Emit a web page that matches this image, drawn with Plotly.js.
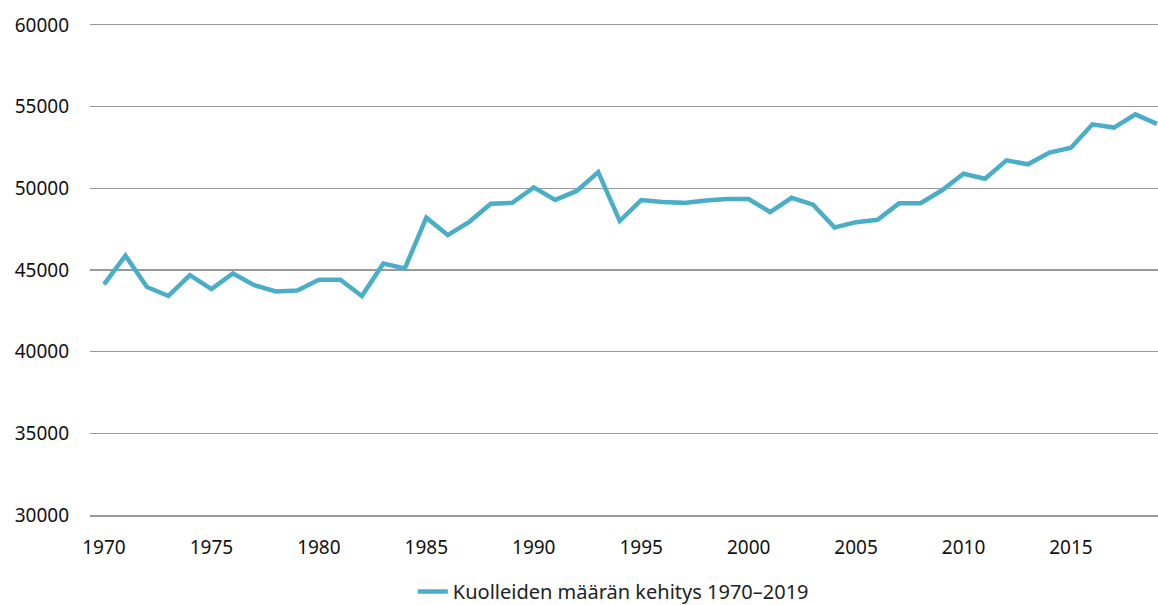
<!DOCTYPE html>
<html>
<head>
<meta charset="utf-8">
<script src="https://cdn.plot.ly/plotly-3.0.1.min.js"></script>
<style>html,body{margin:0;padding:0;background:#fff;}#chart{width:1158px;height:605px;}</style>
</head>
<body>
<div id="chart"></div>
<script>
const years = [1970,1971,1972,1973,1974,1975,1976,1977,1978,1979,1980,1981,1982,1983,1984,1985,1986,1987,1988,1989,1990,1991,1992,1993,1994,1995,1996,1997,1998,1999,2000,2001,2002,2003,2004,2005,2006,2007,2008,2009,2010,2011,2012,2013,2014,2015,2016,2017,2018,2019];
const deaths = [44120,45880,43960,43410,44680,43830,44790,44070,43690,43740,44400,44400,43410,45390,45100,48200,47140,47950,49060,49110,50060,49290,49840,50990,48000,49280,49170,49110,49260,49350,49340,48550,49420,49000,47600,47930,48070,49080,49090,49880,50890,50590,51710,51470,52190,52490,53920,53720,54530,53950];
const seriesName = 'Kuolleiden määrän kehitys 1970–2019';
const xTicks = [1970,1975,1980,1985,1990,1995,2000,2005,2010,2015];
const yTicks = [30000,35000,40000,45000,50000,55000,60000];

const font = {family: '"Noto Sans", "Open Sans", sans-serif', size: 19, color: '#111'};
Plotly.newPlot('chart', [{
  x: years, y: deaths, type: 'scatter', mode: 'lines', name: seriesName,
  line: {color: '#4BAEC8', width: 4.5}
}], {
  width: 1158, height: 605,
  margin: {l: 90, r: 0, t: 25, b: 90, autoexpand: false},
  paper_bgcolor: '#fff', plot_bgcolor: '#fff',
  font: font,
  showlegend: true,
  legend: {orientation: 'h', x: 0.49, xanchor: 'center', y: -0.156, yanchor: 'middle', font: {family: font.family, size: 20, color: '#222'}},
  xaxis: {range: [1969.35, 2019.05], tickvals: xTicks, ticktext: xTicks.map(String), showgrid: false, zeroline: false, showline: true, mirror: 'all', linecolor: '#999', linewidth: 1.5, ticks: '', ticklabelstandoff: 15, tickfont: font},
  yaxis: {range: [30000, 60000], tickvals: yTicks, ticktext: yTicks.map(String), showgrid: true, gridcolor: '#999', gridwidth: 1.5, zeroline: false, showline: false, ticks: '', ticklabelstandoff: 20, tickfont: font}
}, {displayModeBar: false, staticPlot: true});
</script>
</body>
</html>
